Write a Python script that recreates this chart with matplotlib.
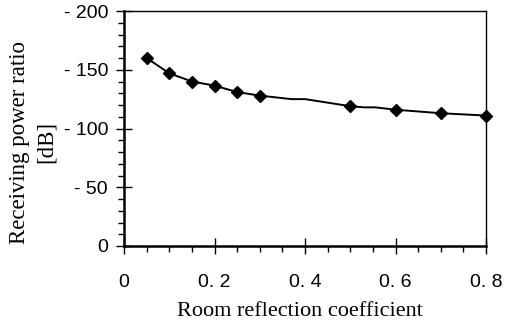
import matplotlib
matplotlib.use('Agg')
import matplotlib.pyplot as plt
from matplotlib.ticker import MultipleLocator

# curve vertices (dB); only some carry a marker
x_vals = [0.05, 0.10, 0.15, 0.20, 0.25, 0.30, 0.37, 0.40, 0.50, 0.53, 0.555, 0.60, 0.70, 0.80]
y_vals = [-160, -147, -140, -136.5, -131, -128, -125, -125, -119, -118, -118, -116, -113, -111]
marked = [0, 1, 2, 3, 4, 5, 8, 11, 12, 13]

x_ticks = [0, 0.2, 0.4, 0.6, 0.8]
x_labels = ['0', '0. 2', '0. 4', '0. 6', '0. 8']
y_ticks = [0, -50, -100, -150, -200]
y_labels = ['0', '- 50', '- 100', '- 150', '- 200']

fig = plt.figure(figsize=(5.05, 3.22), dpi=100)
ax = fig.add_axes([124 / 505, 76 / 322, 362 / 505, 235 / 322])

ax.plot(x_vals, y_vals, color='black', linewidth=1.4, marker='D', markersize=6,
        markevery=marked, clip_on=False, zorder=3)

ax.set_xlim(0, 0.8)
ax.set_ylim(0, -200)

ax.set_xticks(x_ticks)
ax.set_xticklabels(x_labels, fontfamily='Liberation Sans', fontsize=14)
ax.set_yticks(y_ticks)
ax.set_yticklabels(y_labels, fontfamily='Liberation Sans', fontsize=14)
ax.xaxis.set_minor_locator(MultipleLocator(0.05))
ax.yaxis.set_minor_locator(MultipleLocator(10))

ax.tick_params(which='major', direction='inout', length=11, width=1, color='black')
ax.tick_params(which='minor', direction='out', length=4, width=1, color='black')
ax.tick_params(axis='x', which='major', pad=15)
ax.tick_params(axis='y', which='major', pad=6)

for side in ['left', 'bottom']:
    ax.spines[side].set_linewidth(1.8)
for side in ['top', 'right']:
    ax.spines[side].set_linewidth(1.0)

fig.text(300 / 505, 1 - 316 / 322, 'Room reflection coefficient', ha='center', va='baseline',
         fontfamily='Liberation Serif', fontsize=16)
fig.text(33 / 505, 1 - 142 / 322, 'Receiving power ratio\n[dB]', rotation=90,
         ha='center', va='center', fontfamily='Liberation Serif', fontsize=16.5,
         multialignment='center', linespacing=1.35)

fig.savefig('out.png', dpi=100)
